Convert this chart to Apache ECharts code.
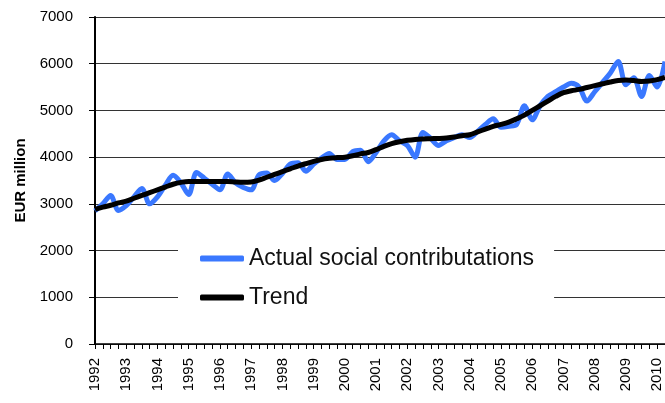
<!DOCTYPE html>
<html>
<head>
<meta charset="utf-8">
<script src="https://cdn.jsdelivr.net/npm/echarts@6/dist/echarts.min.js"></script>
<style>
html,body{margin:0;padding:0;background:#fff;}
#chart{width:665px;height:403px;}
</style>
</head>
<body>
<div id="chart"></div>
<script>
var years = ['1992','1993','1994','1995','1996','1997','1998','1999','2000','2001','2002','2003','2004','2005','2006','2007','2008','2009','2010'];
var quartersPerYear = 4;
var nQuarters = 74; // 1992Q1 .. 2010Q2

var actual = [
  2850, 3000, 3180, 2860, 2960, 3150, 3330, 3000,
  3150, 3400, 3610, 3450, 3200, 3670, 3550, 3420,
  3300, 3640, 3450, 3350, 3300, 3620, 3660, 3500,
  3650, 3850, 3880, 3700, 3850, 3980, 4080, 3950,
  3950, 4120, 4150, 3900, 4100, 4350, 4480, 4350,
  4250, 4000, 4530, 4400, 4250, 4350, 4420, 4480,
  4420, 4550, 4700, 4820, 4640, 4660, 4700, 5100,
  4800, 5100, 5300, 5400, 5500, 5580, 5500, 5200,
  5400, 5600, 5800, 6050, 5550, 5700, 5300, 5750,
  5500, 6050
];

var trend = [
  2880, 2930, 2970, 3020, 3060, 3120, 3180, 3240,
  3300, 3360, 3420, 3460, 3480, 3480, 3480, 3480,
  3480, 3480, 3470, 3465, 3470, 3510, 3570, 3630,
  3690, 3750, 3810, 3860, 3910, 3950, 3975, 3990,
  4000, 4030, 4070, 4100, 4160, 4230, 4290, 4330,
  4360, 4380, 4390, 4395, 4400, 4410, 4430, 4460,
  4480, 4540, 4600, 4660, 4700, 4750, 4820, 4900,
  5000, 5100, 5200, 5300, 5380, 5420, 5450, 5490,
  5530, 5570, 5610, 5640, 5650, 5640, 5620, 5630,
  5660, 5710
];

var yTicks = [0, 1000, 2000, 3000, 4000, 5000, 6000, 7000];
var seriesNames = ['Actual social contributations', 'Trend'];

var categories = [];
for (var i = 0; i < nQuarters; i++) {
  categories.push(years[Math.floor(i / quartersPerYear)] + 'Q' + (i % quartersPerYear + 1));
}

var chart = echarts.init(document.getElementById('chart'), null, {renderer: 'canvas'});
chart.setOption({
  animation: false,
  backgroundColor: '#ffffff',
  grid: {left: 95, right: -2, top: 17, bottom: 59, containLabel: false},
  legend: {
    data: seriesNames,
    orient: 'vertical',
    left: 178,
    top: 234,
    backgroundColor: '#ffffff',
    padding: [12, 20, 10, 22],
    itemWidth: 44,
    itemHeight: 6,
    itemGap: 14,
    icon: 'roundRect',
    textStyle: {fontFamily: 'Liberation Sans, Arial, sans-serif', fontSize: 23, lineHeight: 25, color: '#111'}
  },
  xAxis: {
    type: 'category',
    data: categories,
    boundaryGap: false,
    axisLine: {lineStyle: {color: '#000', width: 1.5}},
    axisTick: {show: true, interval: 0, length: 5, lineStyle: {color: '#000'}},
    axisLabel: {
      interval: 3,
      rotate: 90,
      margin: 14,
      fontFamily: 'Liberation Sans, Arial, sans-serif',
      fontSize: 15,
      color: '#000',
      formatter: function (v) { return v.slice(0, 4); }
    },
    splitLine: {show: false}
  },
  yAxis: {
    type: 'value',
    min: yTicks[0],
    max: yTicks[yTicks.length - 1],
    interval: 1000,
    name: 'EUR million',
    nameLocation: 'middle',
    nameGap: 65,
    nameRotate: 90,
    nameTextStyle: {fontFamily: 'Liberation Sans, Arial, sans-serif', fontSize: 15, fontWeight: 'bold', color: '#000'},
    axisLine: {show: true, lineStyle: {color: '#000', width: 2}},
    axisTick: {show: true, length: 6, lineStyle: {color: '#000'}},
    axisLabel: {
      margin: 22,
      fontFamily: 'Liberation Sans, Arial, sans-serif',
      fontSize: 15,
      color: '#000',
      formatter: function (v) { return String(v); }
    },
    splitLine: {show: true, lineStyle: {color: '#333', width: 1}}
  },
  series: [
    {
      name: seriesNames[0],
      type: 'line',
      data: actual,
      symbol: 'none',
      smooth: 0.3,
      lineStyle: {color: '#3a78ff', width: 5},
      itemStyle: {color: '#3a78ff'},
      z: 2
    },
    {
      name: seriesNames[1],
      type: 'line',
      data: trend,
      symbol: 'none',
      smooth: 0.4,
      lineStyle: {color: '#000', width: 5},
      itemStyle: {color: '#000'},
      z: 3
    }
  ]
});
</script>
</body>
</html>
